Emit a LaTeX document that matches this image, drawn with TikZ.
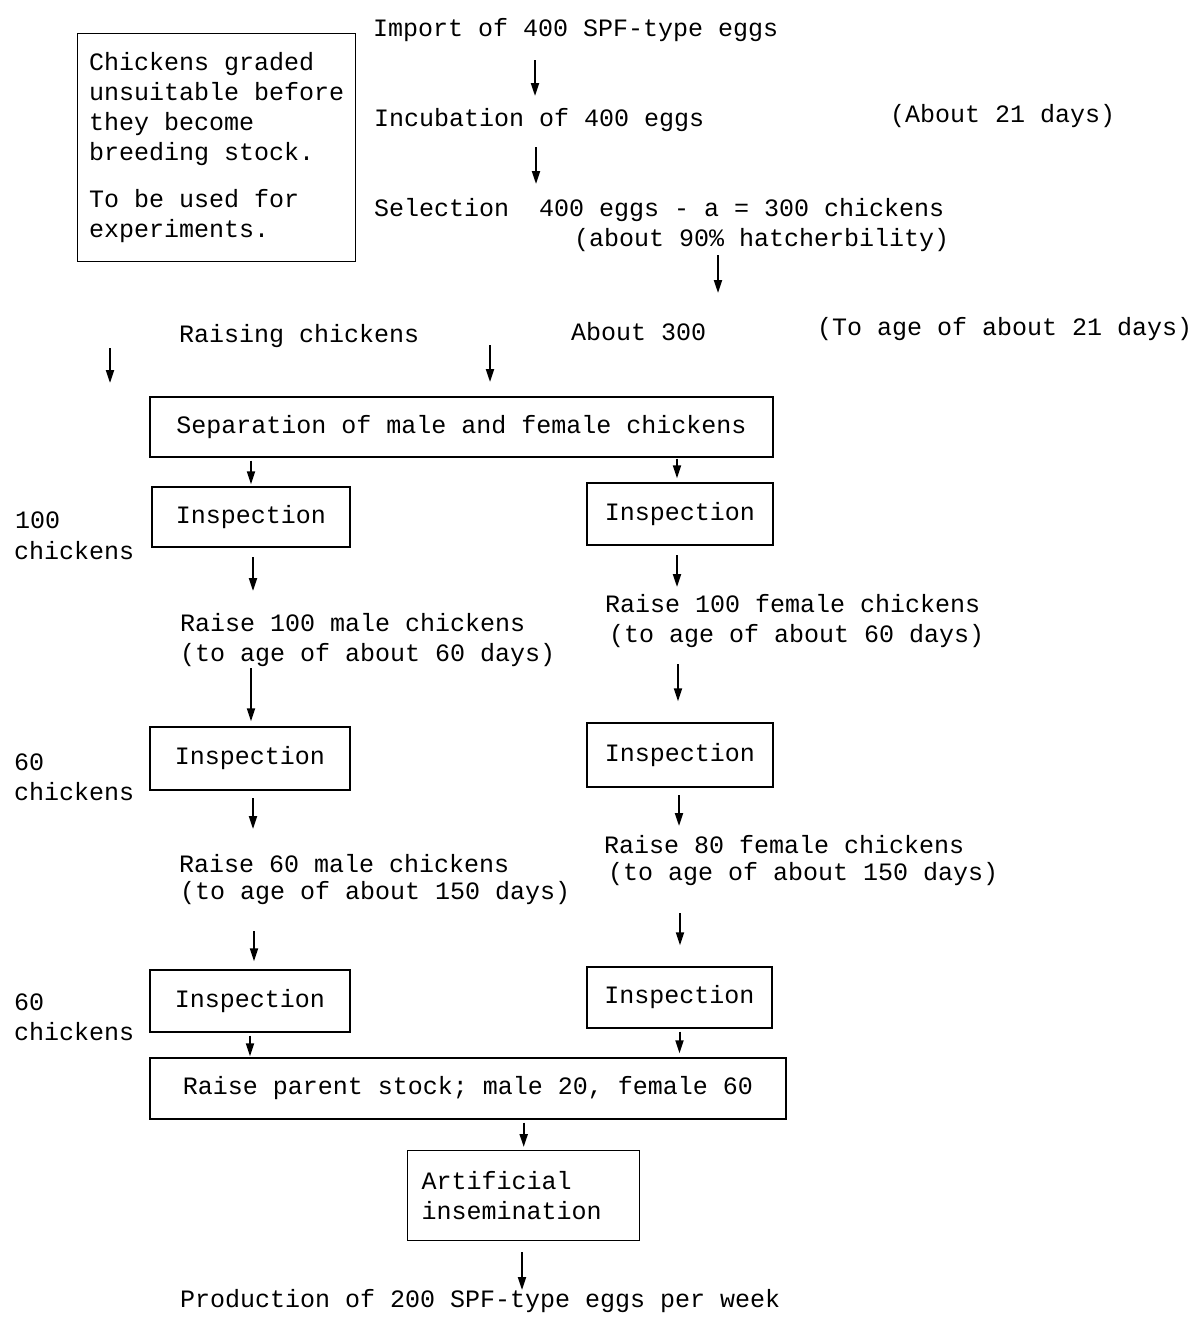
\documentclass[tikz,border=0pt]{standalone}
\usepackage{fontspec}
\setmainfont{Liberation Mono}
\usetikzlibrary{arrows.meta}
\begin{document}
\begin{tikzpicture}[x=1pt,y=-1pt,
  txt/.style={font=\fontsize{25}{30}\selectfont, inner sep=0pt, anchor=west},
  box/.style={draw, line width=1.4pt, font=\fontsize{25}{30}\selectfont, inner sep=0pt},
  arr/.style={line width=2pt, -{Triangle[length=13pt,width=8pt]}}]
\useasboundingbox[fill=white] (0,0) rectangle (1197,1331);

% side note
\node[box, align=left, anchor=north west, minimum width=278, minimum height=228, inner xsep=11pt] (note) at (77,33)
  {Chickens graded\\unsuitable before\\they become\\breeding stock.\\[17pt]To be used for\\experiments.};

% top sequence
\node[txt] (import) at (373,30) {Import of 400 SPF-type eggs};
\node[txt] (incub) at (374,120) {Incubation of 400 eggs};
\node[txt] (days21) at (890,116) {(About 21 days)};
\node[txt] (select) at (374,210) {Selection~~400 eggs - a = 300 chickens};
\node[txt] (hatch) at (574,240) {(about 90\% hatcherbility)};
\node[txt] (raising) at (179,336) {Raising chickens};
\node[txt] (about300) at (571,332) {About 300};
\node[txt] (toage21) at (817,329) {(To age of about 21 days)};

% separation
\node[box, minimum width=623, minimum height=60] (sep) at (461.5,427) {Separation of male and female chickens};

% left column
\node[box, minimum width=198, minimum height=60] (insL1) at (251,517) {Inspection};
\node[txt] (n100) at (15,520) {100};
\node[txt] (c100) at (14,551) {chickens};
\node[txt] (raiseM100) at (180,623) {Raise 100 male chickens};
\node[txt] (ageM60) at (180,655) {(to age of about 60 days)};
\node[box, minimum width=200, minimum height=63] (insL2) at (250,758.5) {Inspection};
\node[txt] (n60a) at (14,762) {60};
\node[txt] (c60a) at (14,792) {chickens};
\node[txt] (raiseM60) at (179,864) {Raise 60 male chickens};
\node[txt] (ageM150) at (180,893) {(to age of about 150 days)};
\node[box, minimum width=200, minimum height=62] (insL3) at (250,1001) {Inspection};
\node[txt] (n60b) at (14,1002) {60};
\node[txt] (c60b) at (14,1032) {chickens};

% right column
\node[box, minimum width=186, minimum height=62] (insR1) at (680,514) {Inspection};
\node[txt] (raiseF100) at (605,604) {Raise 100 female chickens};
\node[txt] (ageF60) at (609,636) {(to age of about 60 days)};
\node[box, minimum width=186, minimum height=64] (insR2) at (680,755) {Inspection};
\node[txt] (raiseF80) at (604,845) {Raise 80 female chickens};
\node[txt] (ageF150) at (608,874) {(to age of about 150 days)};
\node[box, minimum width=185, minimum height=61] (insR3) at (679.5,997.5) {Inspection};

% bottom
\node[box, minimum width=636, minimum height=61] (parent) at (468,1088.5) {Raise parent stock; male 20, female 60};
\node[box, align=left, anchor=north west, minimum width=232, minimum height=90, inner xsep=14pt, text width=204] (art) at (407,1150)
  {Artificial\\insemination};
\node[txt] (prod) at (180,1301) {Production of 200 SPF-type eggs per week};

% arrow end points near text
\coordinate (a1s) at (535,60);  \coordinate (a1e) at (535,96);
\coordinate (a2s) at (536,147); \coordinate (a2e) at (536,184);
\coordinate (a3s) at (718,255); \coordinate (a3e) at (718,293);
\coordinate (a4s) at (110,348); \coordinate (a4e) at (110,383);
\coordinate (a5s) at (490,345); \coordinate (a5e) at (490,382);
\coordinate (a8s) at (253,557); \coordinate (a8e) at (253,591);
\coordinate (a9s) at (677,555); \coordinate (a9e) at (677,587);
\coordinate (a10s) at (251,668);
\coordinate (a11s) at (678,664);
\coordinate (a12s) at (253,798); \coordinate (a12e) at (253,829);
\coordinate (a13s) at (679,795); \coordinate (a13e) at (679,826);
\coordinate (a14s) at (254,931);
\coordinate (a15s) at (680,913);
\coordinate (a19s) at (522,1252); \coordinate (a19e) at (522,1290);

\draw[arr] (a1s) -- (a1e);
\draw[arr] (a2s) -- (a2e);
\draw[arr] (a3s) -- (a3e);
\draw[arr] (a4s) -- (a4e);
\draw[arr] (a5s) -- (a5e);
\draw[arr] ([yshift=-3pt]sep.south -| insL1) -- ([yshift=2pt]insL1.north);
\draw[arr] ([yshift=-1pt]sep.south -| a9s) -- ([yshift=4pt]insR1.north -| a9s);
\draw[arr] (a8s) -- (a8e);
\draw[arr] (a9s) -- (a9e);
\draw[arr] (a10s) -- ([yshift=5pt]insL2.north -| a10s);
\draw[arr] (a11s) -- ([yshift=21pt]insR2.north -| a11s);
\draw[arr] (a12s) -- (a12e);
\draw[arr] (a13s) -- (a13e);
\draw[arr] (a14s) -- ([yshift=8pt]insL3.north -| a14s);
\draw[arr] (a15s) -- ([yshift=21pt]insR3.north -| a15s);
\draw[arr] ([yshift=-3pt]insL3.south) -- ([yshift=1pt]parent.north -| insL3);
\draw[arr] ([yshift=-3pt]insR3.south) -- ([yshift=4pt]parent.north -| insR3);
\draw[arr] ([yshift=-3pt]parent.south -| art) -- ([yshift=3pt]art.north);
\draw[arr] (a19s) -- (a19e);
\end{tikzpicture}
\end{document}
